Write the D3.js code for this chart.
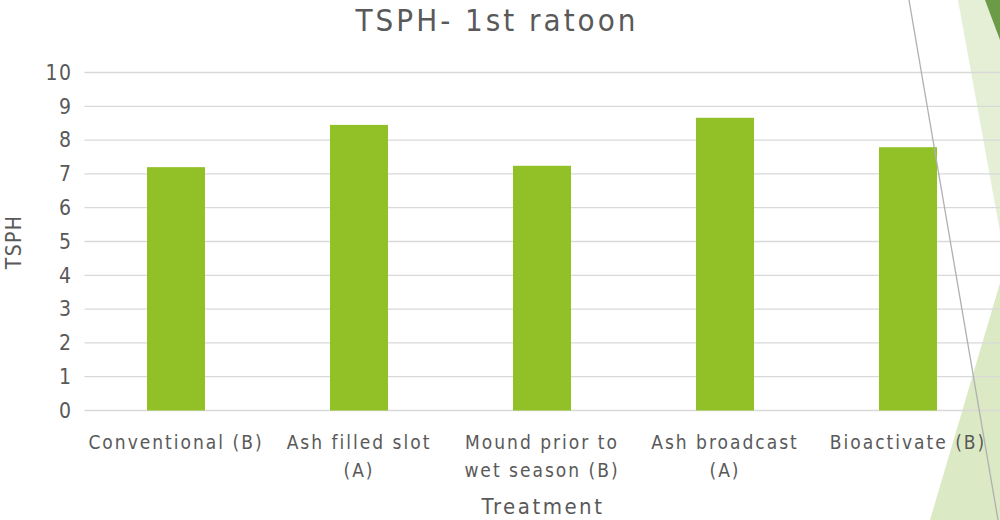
<!DOCTYPE html>
<html>
<head>
<meta charset="utf-8">
<script src="https://cdnjs.cloudflare.com/ajax/libs/d3/7.8.5/d3.min.js"></script>
<style>
  body { margin: 0; background: #fff; }
  svg text { font-family: "DejaVu Sans Condensed", "Open Sans", sans-serif; fill: #595959; }
</style>
</head>
<body>
<div id="chart"></div>
<script>
var categories = ["Conventional (B)", "Ash filled slot (A)", "Mound prior to wet season (B)", "Ash broadcast (A)", "Bioactivate (B)"];
var labelLines = [["Conventional (B)"], ["Ash filled slot", "(A)"], ["Mound prior to", "wet season (B)"], ["Ash broadcast", "(A)"], ["Bioactivate (B)"]];
var values = [7.2, 8.45, 7.24, 8.66, 7.79];
var yTicks = [0, 1, 2, 3, 4, 5, 6, 7, 8, 9, 10];

var width = 1000, height = 520;
var margin = { top: 72.5, right: 0.5, bottom: 109.5, left: 84.5 };
var innerW = width - margin.left - margin.right,
    innerH = height - margin.top - margin.bottom;

var svg = d3.select("#chart").append("svg")
    .attr("width", width)
    .attr("height", height);

// background decorations (slide theme)
svg.append("polygon").attr("points", "958,0 1000,0 1000,232").attr("fill", "#e5efd6");
svg.append("polygon").attr("points", "985,0 1000,0 1000,40").attr("fill", "#6b9a48");
svg.append("polygon").attr("points", "1000,283 930,520 1000,520").attr("fill", "#dbe9c4");

var g = svg.append("g")
    .attr("transform", "translate(" + margin.left + "," + margin.top + ")");

var x = d3.scaleBand().domain(categories).range([0, innerW]).paddingInner(0.683).paddingOuter(0.3415);
var y = d3.scaleLinear().domain([0, 10]).range([innerH, 0]);

// grid
g.selectAll(".grid").data(yTicks).enter().append("line")
    .attr("class", "grid")
    .attr("x1", 0).attr("x2", innerW + 1)
    .attr("y1", function(d) { return y(d); })
    .attr("y2", function(d) { return y(d); })
    .attr("stroke", "#d9d9d9").attr("stroke-width", 1.3);

// bars
g.selectAll(".bar").data(values).enter().append("rect")
    .attr("class", "bar")
    .attr("x", function(d, i) { return x(categories[i]); })
    .attr("width", x.bandwidth())
    .attr("y", function(d) { return y(d); })
    .attr("height", function(d) { return y(0) - y(d); })
    .attr("fill", "#92c127");

// y axis labels
var yAxis = d3.axisLeft(y).tickValues(yTicks).tickSize(0).tickPadding(12);
var ya = g.append("g").call(yAxis);
ya.select(".domain").remove();
ya.selectAll("text")
    .style("font-size", "21px")
    .style("letter-spacing", "1.5px")
    .attr("fill", "#595959");

// x axis labels
var xl = g.selectAll(".xlab").data(labelLines).enter().append("text")
    .attr("class", "xlab")
    .attr("text-anchor", "middle")
    .attr("transform", function(d, i) { return "translate(" + (x(categories[i]) + x.bandwidth() / 2) + "," + (innerH + 38) + ")"; })
    .style("font-size", "19px")
    .style("letter-spacing", "2px");
xl.selectAll("tspan").data(function(d) { return d; }).enter().append("tspan")
    .attr("x", 0)
    .attr("dy", function(d, i) { return i === 0 ? 0 : 28; })
    .text(function(d) { return d; });

// title
svg.append("text")
    .attr("x", 497).attr("y", 31)
    .attr("text-anchor", "middle")
    .style("font-size", "31px")
    .style("letter-spacing", "3px")
    .text("TSPH- 1st ratoon");

// axis titles
svg.append("text")
    .attr("x", 543).attr("y", 514)
    .attr("text-anchor", "middle")
    .style("font-size", "22px")
    .style("letter-spacing", "2.5px")
    .text("Treatment");

svg.append("text")
    .attr("transform", "translate(21,242) rotate(-90)")
    .attr("text-anchor", "middle")
    .style("font-size", "21px")
    .style("letter-spacing", "1.3px")
    .text("TSPH");

// foreground diagonal line
svg.append("line").attr("x1", 909).attr("y1", 0).attr("x2", 998).attr("y2", 520)
    .attr("stroke", "#b0b0b0").attr("stroke-width", 1.3);
</script>
</body>
</html>
